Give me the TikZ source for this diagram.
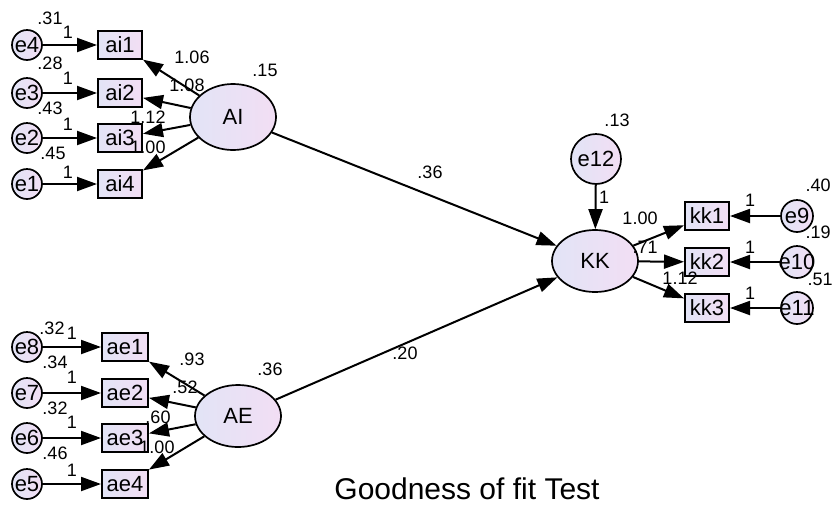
\documentclass[tikz,border=0pt]{standalone}
\usepackage{fontspec}
\setmainfont{Liberation Sans}
\usetikzlibrary{arrows.meta,shapes.geometric}

\definecolor{shadeL}{RGB}{226,228,246}
\definecolor{shadeR}{RGB}{242,222,244}

\begin{document}
\begin{tikzpicture}[x=1pt,y=-1pt,
    latent/.style={ellipse, draw, line width=1.7pt, minimum width=86pt, minimum height=66pt, left color=shadeL, right color=shadeR, font=\fontsize{22}{22}\selectfont},
    observed/.style={rectangle, draw, line width=2pt, minimum width=44pt, minimum height=28pt, inner sep=0pt, left color=shadeL, right color=shadeR, font=\fontsize{22}{22}\selectfont},
    errterm/.style={circle, draw, line width=1.7pt, minimum size=30pt, inner sep=-4pt, left color=shadeL, right color=shadeR, font=\fontsize{22}{22}\selectfont},
    estim/.style={inner sep=0pt, font=\fontsize{18}{18}\selectfont},
    regline/.style={line width=2pt, -{Triangle[length=20pt,width=14pt]}}]
    \useasboundingbox (0,0) rectangle (834,504);

    % AI block
    \node[errterm] (e4) at (27,45) {e4};
    \node[errterm] (e3) at (27,93) {e3};
    \node[errterm] (e2) at (27,138) {e2};
    \node[errterm] (e1) at (27,184) {e1};
    \node[observed] (ai1) at (120,45) {ai1};
    \node[observed] (ai2) at (120,93) {ai2};
    \node[observed] (ai3) at (120,138) {ai3};
    \node[observed] (ai4) at (120,184) {ai4};
    \node[latent] (AI) at (233,117) {AI};

    % AE block
    \node[errterm] (e8) at (27,347) {e8};
    \node[errterm] (e7) at (27,393) {e7};
    \node[errterm] (e6) at (27,438) {e6};
    \node[errterm] (e5) at (27,484) {e5};
    \node[observed, minimum width=46pt] (ae1) at (125,347) {ae1};
    \node[observed, minimum width=46pt] (ae2) at (125,393) {ae2};
    \node[observed, minimum width=46pt] (ae3) at (125,438) {ae3};
    \node[observed, minimum width=46pt] (ae4) at (125,484) {ae4};
    \node[latent, minimum height=62pt] (AE) at (238,416) {AE};

    % KK block
    \node[latent, minimum height=62pt] (KK) at (595,261) {KK};
    \node[errterm, minimum size=50pt] (e12) at (596,159) {e12};
    \node[observed] (kk1) at (707,216) {kk1};
    \node[observed] (kk2) at (707,262) {kk2};
    \node[observed] (kk3) at (707,308) {kk3};
    \node[errterm, minimum size=32pt, inner sep=-6pt] (e9) at (797,216) {e9};
    \node[errterm, minimum size=32pt, inner sep=-6pt] (e10) at (797,262) {e10};
    \node[errterm, minimum size=32pt, inner sep=-6pt] (e11) at (797,308) {e11};

    % Paths
    \foreach \e/\v in {e4/ai1, e3/ai2, e2/ai3, e1/ai4, e8/ae1, e7/ae2, e6/ae3, e5/ae4, e9/kk1, e10/kk2, e11/kk3}
        \draw[regline] (\e) -- (\v);
    \foreach \v in {ai1, ai2, ai3, ai4}
        \draw[regline] (AI) -- (\v);
    \foreach \v in {ae1, ae2, ae3, ae4}
        \draw[regline] (AE) -- (\v);
    \foreach \v in {kk1, kk2, kk3}
        \draw[regline] (KK) -- (\v);
    \draw[regline] (e12) -- (KK);
    \draw[regline] (AI) -- (KK);
    \draw[regline] (AE) -- (KK);

    % Estimates
    \node[estim] (vE4) at (50,18) {.31};
    \node[estim] (wE4) at (68,32) {1};
    \node[estim] (vE3) at (50,63) {.28};
    \node[estim] (wE3) at (68,78) {1};
    \node[estim] (vE2) at (50,108) {.43};
    \node[estim] (wE2) at (68,124) {1};
    \node[estim] (vE1) at (53,153) {.45};
    \node[estim] (wE1) at (68,172) {1};
    \node[estim] (lAi1) at (192,57) {1.06};
    \node[estim] (lAi2) at (187,85) {1.08};
    \node[estim] (lAi3) at (148,117) {1.12};
    \node[estim] (lAi4) at (148,147) {1.00};
    \node[estim] (vAI) at (265,70) {.15};

    \node[estim] (vE8) at (52,328) {.32};
    \node[estim] (wE8) at (72,333) {1};
    \node[estim] (vE7) at (55,362) {.34};
    \node[estim] (wE7) at (72,377) {1};
    \node[estim] (vE6) at (55,408) {.32};
    \node[estim] (wE6) at (72,422) {1};
    \node[estim] (vE5) at (55,453) {.46};
    \node[estim] (wE5) at (72,470) {1};
    \node[estim] (lAe1) at (192,359) {.93};
    \node[estim] (lAe2) at (185,387) {.52};
    \node[estim] (lAe3) at (158,417) {.60};
    \node[estim] (lAe4) at (157,447) {1.00};
    \node[estim] (vAE) at (270,369) {.36};

    \node[estim] (vE12) at (617,120) {.13};
    \node[estim] (wE12) at (604,197) {1};
    \node[estim] (lKk1) at (640,218) {1.00};
    \node[estim] (lKk2) at (645,247) {.71};
    \node[estim] (lKk3) at (680,278) {1.12};
    \node[estim] (wE9) at (750,200) {1};
    \node[estim] (wE10) at (750,247) {1};
    \node[estim] (wE11) at (750,293) {1};
    \node[estim] (vE9) at (818,185) {.40};
    \node[estim] (vE10) at (818,232) {.19};
    \node[estim] (vE11) at (820,279) {.51};

    \node[estim] (gAI) at (430,172) {.36};
    \node[estim] (gAE) at (405,353) {.20};

    % Title
    \node[inner sep=0pt, anchor=base, font=\fontsize{30}{30}\selectfont] (title) at (467,499) {Goodness of fit Test};
\end{tikzpicture}
\end{document}
